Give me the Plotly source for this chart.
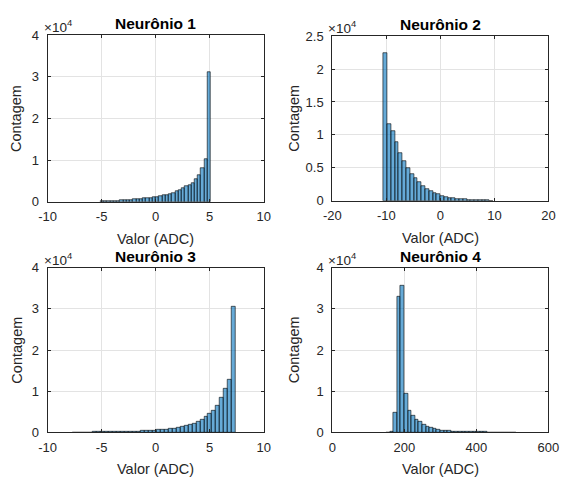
import plotly.graph_objects as go

# ---------------- data (bin start, bin width, counts) ----------------
n1_start = -5.1
n1_width = 0.3
n1_counts = [60, 100, 140, 180, 220, 260, 310, 360, 420, 480, 550, 620, 700,
             790, 880, 980, 1100, 1230, 1380, 1530, 1700, 1900, 2150, 2450,
             2800, 3200, 3650, 4100, 4600, 5400, 6400, 8200, 10300, 31100]

n2_start = -10.5
n2_width = 0.7
n2_counts = [22400, 11600, 10600, 8900, 7300, 6000, 5000, 4100, 3400, 2800,
             2300, 1850, 1500, 1200, 950, 750, 600, 480, 380, 300,
             240, 190, 150, 120, 90, 70, 50, 40, 30]

n3_start = -7.73
n3_width = 0.37
n3_counts = [30, 35, 40, 45, 50, 60, 70, 80, 95, 110, 130, 150, 170, 200, 230,
             260, 300, 340, 390, 440, 500, 570, 640, 720, 820, 950, 1100, 1300,
             1550, 1850, 2200, 2600, 3100, 3700, 4500, 5300, 6600, 8400, 10500,
             12900, 30500]

n4_start = 150
n4_width = 10
n4_counts = [50, 250, 4700, 32900, 35600, 9500, 5300, 4000, 3200, 2500, 1900,
             1450, 1100, 850, 650, 500, 400, 320, 260, 210, 170, 140, 120, 100,
             90, 80, 70, 60, 55, 50, 45, 40, 35, 30, 25, 20]

titles = ["Neurônio 1", "Neurônio 2", "Neurônio 3", "Neurônio 4"]
x_ranges = [[-10, 10], [-20, 20], [-10, 10], [0, 600]]
x_tickvals = [[-10, -5, 0, 5, 10], [-20, -10, 0, 10, 20],
              [-10, -5, 0, 5, 10], [0, 200, 400, 600]]
x_ticktext = [["-10", "-5", "0", "5", "10"], ["-20", "-10", "0", "10", "20"],
              ["-10", "-5", "0", "5", "10"], ["0", "200", "400", "600"]]
y_ranges = [[0, 40000], [0, 25000], [0, 40000], [0, 40000]]
y_tickvals = [[0, 10000, 20000, 30000, 40000],
              [0, 5000, 10000, 15000, 20000, 25000],
              [0, 10000, 20000, 30000, 40000],
              [0, 10000, 20000, 30000, 40000]]
y_ticktext = [["0", "1", "2", "3", "4"],
              ["0", "0.5", "1", "1.5", "2", "2.5"],
              ["0", "1", "2", "3", "4"],
              ["0", "1", "2", "3", "4"]]
x_label = "Valor (ADC)"
y_label = "Contagem"

series = [(n1_start, n1_width, n1_counts), (n2_start, n2_width, n2_counts),
          (n3_start, n3_width, n3_counts), (n4_start, n4_width, n4_counts)]

# ---------------- layout geometry ----------------
W, H = 571, 484
px_x = [(40, 264), (335, 559), (40, 264), (335, 559)]
px_y = [(29, 201), (30, 200), (269, 439), (269, 439)]

FONT = "Liberation Sans, Arial, Helvetica, sans-serif"
AX = "#262626"
GRID = "#e3e3e3"
BAR = "rgba(0,114,189,0.6)"

fig = go.Figure()
layout = dict(
    width=W, height=H, margin=dict(l=0, r=0, t=0, b=0),
    paper_bgcolor="white", plot_bgcolor="white", showlegend=False,
    font=dict(family=FONT, size=12, color=AX), bargap=0,
)
annotations = []
for i, (start, width, counts) in enumerate(series):
    k = "" if i == 0 else str(i + 1)
    centers = [start + width * (j + 0.5) for j in range(len(counts))]
    fig.add_trace(go.Bar(
        x=centers, y=counts, width=width,
        marker=dict(color=BAR, line=dict(color="rgba(0,0,0,0.85)", width=0.7)),
        xaxis="x" + k, yaxis="y" + k, hoverinfo="x+y",
    ))
    x0, x1 = px_x[i]
    y0, y1 = px_y[i]
    layout["xaxis" + k] = dict(
        domain=[x0 / W, x1 / W], range=x_ranges[i], anchor="y" + k,
        tickvals=x_tickvals[i], ticktext=x_ticktext[i],
        ticks="inside", ticklen=3, tickcolor=AX, ticklabelstandoff=3,
        showline=True, linecolor=AX, linewidth=1, mirror="allticks",
        showgrid=True, gridcolor=GRID, gridwidth=1, zeroline=False,
        tickfont=dict(size=13, color=AX),
    )
    layout["yaxis" + k] = dict(
        domain=[1 - y1 / H, 1 - y0 / H], range=y_ranges[i], anchor="x" + k,
        tickvals=y_tickvals[i], ticktext=y_ticktext[i],
        ticks="inside", ticklen=3, tickcolor=AX, ticklabelstandoff=5,
        showline=True, linecolor=AX, linewidth=1, mirror="allticks",
        showgrid=True, gridcolor=GRID, gridwidth=1, zeroline=False,
        tickfont=dict(size=13, color=AX),
    )
    xd = "x" + k + " domain"
    yd = "y" + k + " domain"
    annotations.append(dict(text="<b>" + titles[i] + "</b>", xref=xd, yref=yd,
                            x=0.5, y=1, xanchor="center", yanchor="bottom",
                            yshift=1, showarrow=False,
                            font=dict(size=15.5, color="black")))
    annotations.append(dict(text="×10<sup>4</sup>", xref=xd, yref=yd,
                            x=0, y=1, xanchor="left", yanchor="bottom",
                            xshift=-6, yshift=-2, showarrow=False,
                            font=dict(size=13.5, color=AX)))
    annotations.append(dict(text=x_label, xref=xd, yref=yd,
                            x=0.5, y=0, xanchor="center", yanchor="middle",
                            yshift=-37, showarrow=False,
                            font=dict(size=14.5, color=AX)))
    annotations.append(dict(text=y_label, xref=xd, yref=yd,
                            x=0, y=0.5, xanchor="center", yanchor="middle",
                            xshift=-31 if i % 2 == 0 else -38, textangle=-90,
                            showarrow=False, font=dict(size=14.5, color=AX)))

layout["annotations"] = annotations
fig.update_layout(**layout)
fig.write_html("out.html")
